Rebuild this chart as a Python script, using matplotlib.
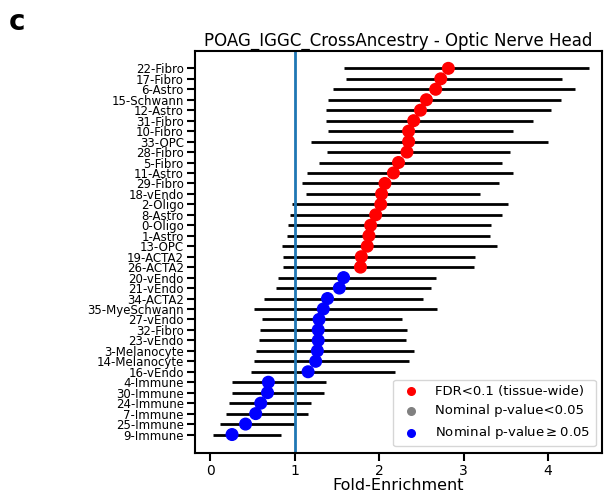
import numpy as np
import matplotlib.pyplot as plt

labels = ["22-Fibro", "17-Fibro", "6-Astro", "15-Schwann", "12-Astro", "31-Fibro",
          "10-Fibro", "33-OPC", "28-Fibro", "5-Fibro", "11-Astro", "29-Fibro",
          "18-vEndo", "2-Oligo", "8-Astro", "0-Oligo", "1-Astro", "13-OPC",
          "19-ACTA2", "26-ACTA2", "20-vEndo", "21-vEndo", "34-ACTA2", "35-MyeSchwann",
          "27-vEndo", "32-Fibro", "23-vEndo", "3-Melanocyte", "14-Melanocyte", "16-vEndo",
          "4-Immune", "30-Immune", "24-Immune", "7-Immune", "25-Immune", "9-Immune"]
fold = [2.82, 2.73, 2.67, 2.56, 2.49, 2.41, 2.35, 2.35, 2.33, 2.23, 2.17, 2.07,
        2.03, 2.02, 1.96, 1.90, 1.88, 1.86, 1.79, 1.78, 1.58, 1.53, 1.39, 1.34,
        1.29, 1.28, 1.28, 1.27, 1.25, 1.16, 0.69, 0.68, 0.60, 0.54, 0.42, 0.26]
ci_low = [1.59, 1.61, 1.46, 1.40, 1.37, 1.37, 1.39, 1.19, 1.38, 1.29, 1.15, 1.09,
          1.14, 0.97, 0.95, 0.92, 0.91, 0.85, 0.86, 0.86, 0.80, 0.78, 0.64, 0.52,
          0.62, 0.59, 0.58, 0.54, 0.52, 0.49, 0.26, 0.26, 0.22, 0.19, 0.12, 0.03]
ci_high = [4.48, 4.17, 4.32, 4.15, 4.03, 3.82, 3.58, 4.00, 3.55, 3.45, 3.59, 3.42,
           3.20, 3.53, 3.45, 3.32, 3.31, 3.39, 3.14, 3.12, 2.67, 2.61, 2.52, 2.68,
           2.27, 2.33, 2.32, 2.41, 2.35, 2.19, 1.37, 1.35, 1.19, 1.16, 1.00, 0.84]
fdr_sig = [True] * 20 + [False] * 16

fig = plt.figure(figsize=(6.07, 4.96), dpi=100)
ax = fig.add_axes([0.321, 0.087, 0.671, 0.810])

y = np.arange(len(labels))
ax.hlines(y, ci_low, ci_high, color='black', linewidth=2, zorder=1)
cols = ['red' if s else 'blue' for s in fdr_sig]
ax.scatter(fold, y, c=cols, s=70, zorder=3)
ax.axvline(1, color='#1f77b4', linewidth=2, zorder=2)

ax.set_yticks(y)
ax.set_yticklabels(labels, fontsize=8.5)
ax.set_ylim(len(labels) + 0.75, -1.65)
ax.set_xlim(-0.18, 4.64)
ax.set_xticks([0, 1, 2, 3, 4])
ax.tick_params(axis='x', labelsize=10, length=6, width=1.5, pad=2)
ax.tick_params(axis='y', length=6, width=1.5, pad=2)
for sp in ax.spines.values():
    sp.set_linewidth(1.5)
ax.set_xlabel("Fold-Enrichment", fontsize=11.5, labelpad=0)
ax.set_title("POAG_IGGC_CrossAncestry - Optic Nerve Head", fontsize=12, pad=4)

for c, lab in [('red', 'FDR<0.1 (tissue-wide)'), ('gray', 'Nominal p-value<0.05'),
               ('blue', r'Nominal p-value$\geq$0.05')]:
    ax.scatter([], [], c=c, s=30, label=lab)
ax.legend(loc='lower right', fontsize=9.5)

fig.text(0.015, 0.94, "c", fontsize=20, fontweight='bold')

fig.savefig("out.png", dpi=100)
